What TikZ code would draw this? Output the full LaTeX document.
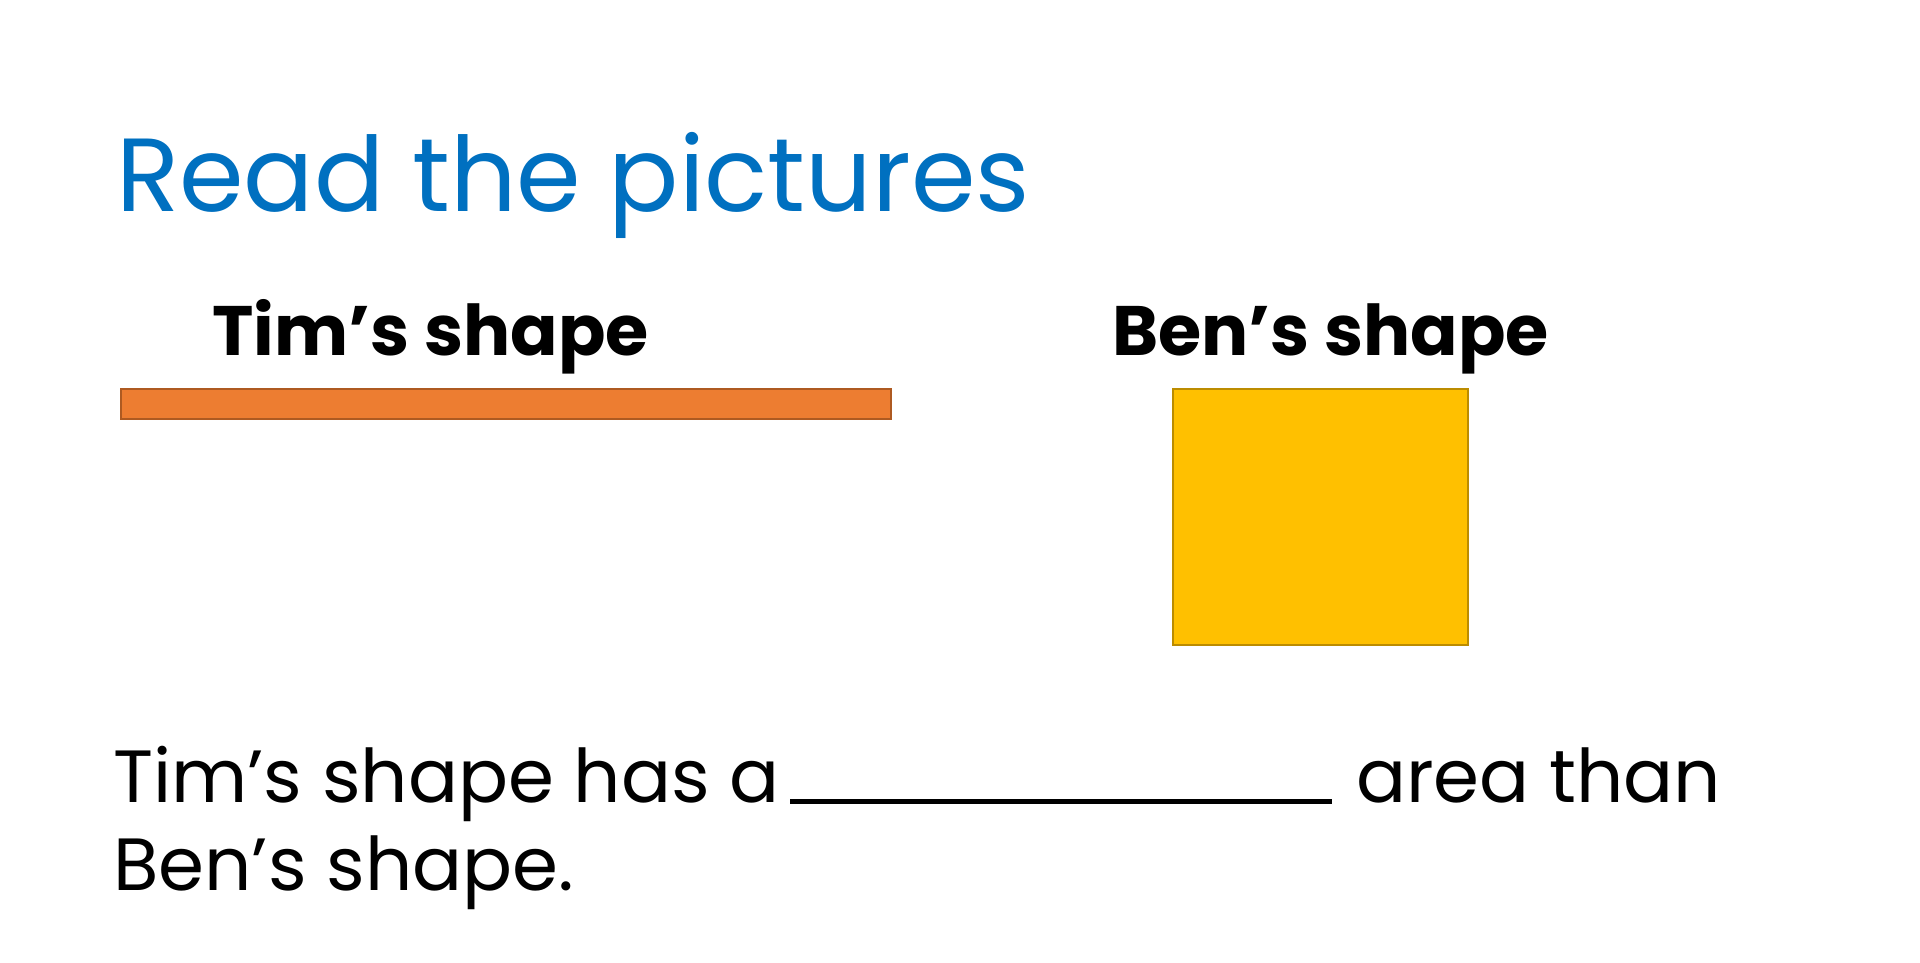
\documentclass[tikz,border=0pt]{standalone}
\usepackage{fontspec}
\setmainfont{Poppins}
\definecolor{titleblue}{RGB}{0,112,192}
\definecolor{orangefill}{RGB}{237,125,49}
\definecolor{orangeline}{RGB}{174,90,33}
\definecolor{goldfill}{RGB}{255,192,0}
\definecolor{goldline}{RGB}{188,140,0}
\begin{document}
\begin{tikzpicture}[x=1pt,y=-1pt,
  txt/.style={inner sep=0pt,anchor=base west},
  label/.style={txt,font=\fontsize{70}{80}\selectfont\bfseries},
  body/.style={txt,font=\fontsize{74}{90}\selectfont}]
\useasboundingbox (0,0) rectangle (1920,962);
\fill[white] (0,0) rectangle (1920,962);
\node[txt,text=titleblue,font=\fontsize{104}{120}\selectfont] (title) at (116,211) {Read the pictures};
\node[label] (timlabel) at (212,355) {Tim’s shape};
\node[label] (benlabel) at (1112,355) {Ben’s shape};
\draw[fill=orangefill,draw=orangeline,line width=1.5pt] (121,389) rectangle (891,419);
\draw[fill=goldfill,draw=goldline,line width=1.5pt] (1173,389) rectangle (1468,645);
\node[body] (line1a) at (113,802) {Tim’s shape has a};
\draw[line width=5pt] (790,801) -- (1332,801);
\node[body] (line1b) at (1356,802) {area than};
\node[body] (line2) at (113,890) {Ben’s shape.};
\end{tikzpicture}
\end{document}
